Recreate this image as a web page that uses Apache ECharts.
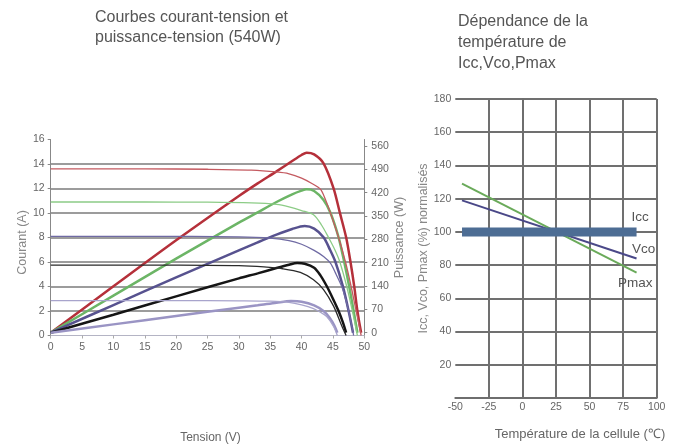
<!DOCTYPE html>
<html><head><meta charset="utf-8">
<script src="https://cdn.jsdelivr.net/npm/echarts@6/dist/echarts.min.js"></script>
<style>html,body{margin:0;padding:0;background:#fff}#c{width:683px;height:446px}</style>
</head><body><div id="c"></div>
<script>
// ---------- Left chart: I-V (thin) and P-V (thick) curves, [V, value] ----------
const ivRed    = [[0,13.6],[15,13.6],[25,13.57],[32,13.5],[36,13.35],[38,13.2],[40,12.85],[41.5,12.45],[43,11.95],[43.8,11.1],[44.6,10.0],[45.9,8.0],[47.0,6.0],[47.9,4.0],[48.7,2.0],[49.5,0]];
const ivGreen  = [[0,10.9],[15,10.9],[25,10.88],[32,10.82],[36,10.7],[38,10.5],[40,10.2],[41.9,9.85],[43.2,9.0],[44.3,8.0],[45.3,7.0],[46.1,6.0],[47.2,4.0],[48.1,2.0],[48.9,0]];
const ivPurple = [[0,8.1],[15,8.1],[30,8.05],[35,7.95],[38,7.75],[40,7.45],[42,6.95],[43.5,6.45],[44.6,5.9],[45.5,5.0],[46.4,4.0],[47.0,3.0],[47.5,2.0],[48.0,0.8],[48.3,0]];
const ivBlack  = [[0,5.75],[20,5.74],[30,5.7],[34,5.6],[37,5.45],[39.8,5.15],[41.9,4.55],[43.5,3.75],[45.1,2.4],[46.4,0.8],[47.1,0]];
const ivLilac  = [[0,2.85],[20,2.85],[30,2.83],[35,2.8],[38,2.7],[40,2.5],[41.9,2.2],[43,1.9],[44,1.55],[45.1,0.75],[45.7,0]];

const pvRed    = [[0,0],[10,139],[20,277],[30,410],[33,448],[36,484],[38.5,515],[40,533],[40.8,540],[42,535],[43.5,508],[45.1,433],[46.1,360],[47.1,286],[47.8,212],[48.4,138],[48.9,65],[49.5,0]];
const pvGreen  = [[0,0],[10,111],[20,222],[30,330],[33,361],[36,392],[38.5,415],[40,426],[40.8,430],[42,425],[43.5,398],[44.6,360],[45.9,286],[46.8,212],[47.6,138],[48.3,65],[48.9,0]];
const pvPurple = [[0,0],[10,83],[20,166],[30,247],[33,271],[36,294],[38.5,311],[40.5,320],[42,312],[43.5,286],[44.5,250],[45.4,212],[46.6,138],[47.5,65],[48.2,0]];
const pvBlack  = [[0,0],[10,54],[20,109],[30,163],[33,178],[36,194],[38,204],[39.3,209],[40.5,207],[42,195],[43,172],[44,140],[45,102],[45.9,65],[46.6,30],[47.1,0]];
const pvLilac  = [[0,0],[10,25],[20,50],[30,75],[33,82],[36,90],[38.3,95],[40,93],[42,82],[43.5,65],[44.5,44],[45.2,22],[45.7,0]];

const powerTicks = [0,70,140,210,280,350,420,490,560];

// ---------- Right chart: temperature dependence ----------
const tempX   = [-45, 85];
const iccVals = [100, 100];
const vcoVals = [119, 84];
const pmaxVals= [129, 75.5];

const FONT = "'Liberation Sans', Arial, sans-serif";
const chart = echarts.init(document.getElementById('c'), null, {renderer:'canvas'});

function ln(name, data, color, width, yIdx) {
  return {name, type:'line', data, xAxisIndex:0, yAxisIndex:yIdx, symbol:'none',
    smooth:0.3, lineStyle:{color, width}, itemStyle:{color}, z: width > 2 ? 3 : 4};
}
function pairs(xs, ys){ return xs.map((x,i)=>[x, ys[i]]); }

const labelStyle = {color:'#666', fontSize:10.5, fontFamily:FONT};
const nameStyle = {color:'#888', fontSize:12.5, fontFamily:FONT};

chart.setOption({
  animation:false,
  backgroundColor:'#fff',
  title:[
    {text:'Courbes courant-tension et\npuissance-tension (540W)', left:90, top:3,
     textStyle:{fontSize:16, lineHeight:20, color:'#555', fontWeight:'normal', fontFamily:FONT}},
    {text:'Dépendance de la\ntempérature de\nIcc,Vco,Pmax', left:453, top:6,
     textStyle:{fontSize:16, lineHeight:21, color:'#555', fontWeight:'normal', fontFamily:FONT}}
  ],
  grid:[
    {left:50.7, top:139.5, width:313.6, height:196},
    {left:455.3, top:99, width:201.4, height:302}
  ],
  xAxis:[
    {gridIndex:0, type:'value', min:0, max:50, interval:5,
     name:'Tension (V)', nameLocation:'middle', nameGap:96,
     nameTextStyle:{color:'#666', fontSize:12, fontFamily:FONT, padding:[0,0,0,6]},
     axisLine:{lineStyle:{color:'#b4b4c4', width:1}},
     axisTick:{show:true, length:3, lineStyle:{color:'#aaa'}},
     axisLabel:Object.assign({margin:6}, labelStyle),
     splitLine:{show:false}},
    {gridIndex:1, type:'value', min:-50, max:100, interval:25,
     name:'Température de la cellule (℃)', nameLocation:'middle', nameGap:30,
     nameTextStyle:{color:'#666', fontSize:13, fontFamily:FONT, padding:[0,0,0,48]},
     axisLine:{lineStyle:{color:'#6e6e6e', width:2}},
     axisTick:{show:false},
     axisLabel:Object.assign({margin:4}, labelStyle),
     splitLine:{show:true, showMinLine:false, showMaxLine:true, lineStyle:{color:'#707070', width:2}}}
  ],
  yAxis:[
    {gridIndex:0, type:'value', min:0, max:16, interval:2, position:'left',
     name:'Courant (A)', nameLocation:'middle', nameGap:22, nameRotate:90,
     nameTextStyle:Object.assign({padding:[0,10,0,0]}, nameStyle),
     axisLine:{show:true, lineStyle:{color:'#888', width:1}},
     axisTick:{show:true, length:3, lineStyle:{color:'#888'}},
     axisLabel:Object.assign({margin:6}, labelStyle),
     splitLine:{show:true, showMinLine:false, showMaxLine:false, lineStyle:{color:'#9c9c9c', width:2}}},
    {gridIndex:0, type:'value', min:-8.4, max:579.5, position:'right',
     name:'Puissance (W)', nameLocation:'middle', nameGap:27, nameRotate:90,
     nameTextStyle:nameStyle,
     axisLine:{show:true, lineStyle:{color:'#888', width:1}},
     axisTick:{show:true, length:3, customValues:powerTicks, lineStyle:{color:'#888'}},
     axisLabel:Object.assign({margin:7, customValues:powerTicks}, labelStyle),
     splitLine:{show:false}},
    {gridIndex:1, type:'value', min:0, max:180, interval:20,
     name:'Icc, Vco, Pmax (%) normalisés', nameLocation:'middle', nameGap:20, nameRotate:90,
     nameTextStyle:nameStyle,
     axisLine:{show:true, lineStyle:{color:'#6e6e6e', width:2}},
     axisTick:{show:false},
     axisLabel:Object.assign({margin:4, showMinLabel:false}, labelStyle),
     splitLine:{show:true, showMinLine:false, showMaxLine:true, lineStyle:{color:'#707070', width:2}}}
  ],
  series:[
    ln('I rouge', ivRed, '#c45a60', 1.3, 0),
    ln('I vert', ivGreen, '#8ccc86', 1.3, 0),
    ln('I violet', ivPurple, '#6f6aa3', 1.3, 0),
    ln('I noir', ivBlack, '#2a2a2a', 1.3, 0),
    ln('I lilas', ivLilac, '#a8a4cc', 1.3, 0),
    ln('P rouge', pvRed, '#b5303a', 2.5, 1),
    ln('P vert', pvGreen, '#6cb566', 2.5, 1),
    ln('P violet', pvPurple, '#57528f', 2.5, 1),
    ln('P noir', pvBlack, '#151515', 2.5, 1),
    ln('P lilas', pvLilac, '#9a94c4', 2.5, 1),
    {name:'Icc', type:'line', xAxisIndex:1, yAxisIndex:2, data:pairs(tempX, iccVals), symbol:'none',
     lineStyle:{color:'#4d6d94', width:9, cap:'butt'}, z:5,
     endLabel:{show:true, formatter:'Icc', distance:0, offset:[-5,-14.5], align:'left', verticalAlign:'middle',
       color:'#555', fontSize:13.5, fontFamily:FONT}},
    {name:'Vco', type:'line', xAxisIndex:1, yAxisIndex:2, data:pairs(tempX, vcoVals), symbol:'none',
     lineStyle:{color:'#4a4888', width:2}, z:4,
     endLabel:{show:true, formatter:'Vco', distance:0, offset:[-4.5,-9], align:'left', verticalAlign:'middle',
       color:'#555', fontSize:13.5, fontFamily:FONT}},
    {name:'Pmax', type:'line', xAxisIndex:1, yAxisIndex:2, data:pairs(tempX, pmaxVals), symbol:'none',
     lineStyle:{color:'#6aaa5a', width:2}, z:4,
     endLabel:{show:true, formatter:'Pmax', distance:0, offset:[-18.5,10.5], align:'left', verticalAlign:'middle',
       color:'#555', fontSize:13.5, fontFamily:FONT}}
  ]
});
</script></body></html>
